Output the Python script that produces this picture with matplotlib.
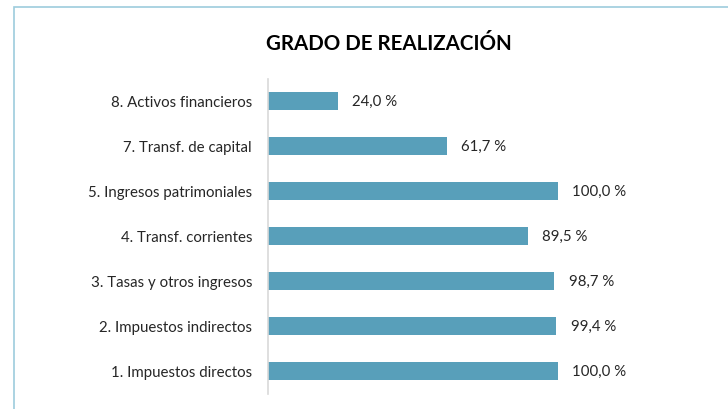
import matplotlib.pyplot as plt
from matplotlib.patches import Rectangle

# Datos del grafico (de abajo hacia arriba)
categorias = ["1. Impuestos directos", "2. Impuestos indirectos", "3. Tasas y otros ingresos",
              "4. Transf. corrientes", "5. Ingresos patrimoniales", "7. Transf. de capital",
              "8. Activos financieros"]
valores = [100.0, 99.4, 98.7, 89.5, 100.0, 61.7, 24.0]
etiquetas = ["100,0 %", "99,4 %", "98,7 %", "89,5 %", "100,0 %", "61,7 %", "24,0 %"]

plt.rcParams['font.family'] = ['Lato', 'DejaVu Sans']

fig = plt.figure(figsize=(7.28, 4.10), dpi=100)

# Marco del grafico
fig.patches.append(Rectangle((14 / 728, -0.1), 1.2, (410 - 8) / 410 + 0.1,
                             transform=fig.transFigure, fill=False,
                             edgecolor='#9DCCDD', linewidth=1.2))

ax = fig.add_axes([268 / 728, 15.5 / 410, 435 / 728, 315 / 410])
pos = range(len(categorias))
ax.barh(pos, valores, height=0.4, color='#589FBA')

for i, (v, t) in enumerate(zip(valores, etiquetas)):
    ax.text(v + 5, i, t, va='center', ha='left', fontsize=10.8, color='#262626')

ax.set_yticks(list(pos))
ax.set_yticklabels(categorias, fontsize=10.8, color='#262626')
ax.set_xlim(0, 150)
ax.set_ylim(-0.5, len(categorias) - 0.5)
ax.set_xticks([])
ax.tick_params(axis='y', length=0, pad=11.5)

for s in ['top', 'right', 'bottom']:
    ax.spines[s].set_visible(False)
ax.spines['left'].set_color('#D9D9D9')
ax.spines['left'].set_linewidth(1.2)

fig.text(388.5 / 728, 1 - 44 / 410, "GRADO DE REALIZACIÓN", ha='center', va='center',
         fontsize=14.8, fontweight='bold', color='#000000')

fig.savefig('out.png', dpi=100)
